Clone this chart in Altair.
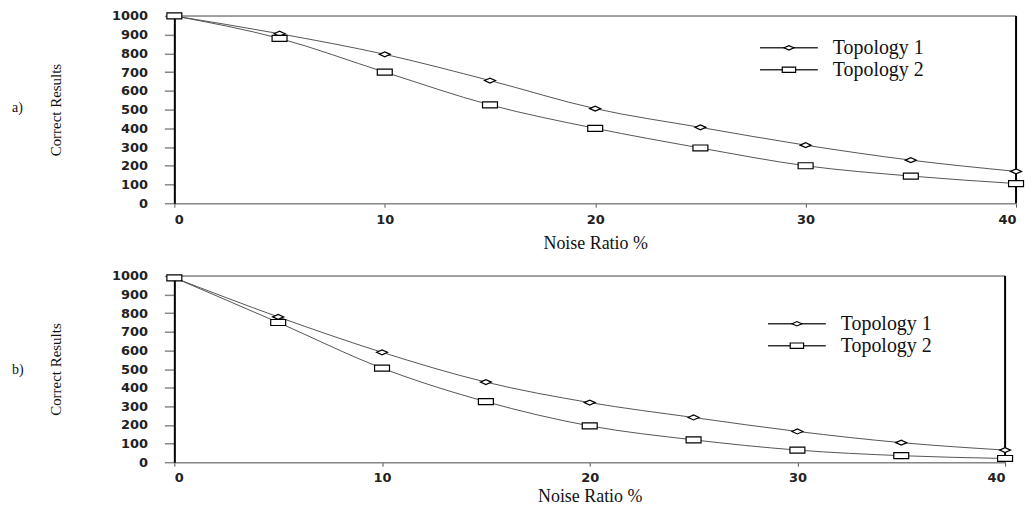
import altair as alt
import pandas as pd

noise = [0, 5, 10, 15, 20, 25, 30, 35, 40]
series_names = ["Topology 1", "Topology 2"]
a_topology1 = [1000, 905, 795, 655, 505, 405, 310, 230, 170]
a_topology2 = [1000, 880, 700, 525, 400, 295, 200, 145, 105]
b_topology1 = [990, 780, 590, 430, 320, 240, 165, 105, 65]
b_topology2 = [990, 750, 505, 325, 195, 120, 65, 35, 20]
y_ticks = [0, 100, 200, 300, 400, 500, 600, 700, 800, 900, 1000]
x_ticks = [0, 10, 20, 30, 40]
panel_labels = ["a)", "b)"]
x_title = "Noise Ratio %"
y_title = "Correct Results"

DIAMOND = "M-1,0L0,-0.45L1,0L0,0.45Z"
RECT = "M-1,-0.4L1,-0.4L1,0.4L-1,0.4Z"
shapes = [DIAMOND, RECT]
sizes = [121, 225]

TICK_FONT = "DejaVu Sans"
SERIF = "Liberation Serif"


def panel(series_vals, label, w, h, leg_x, leg_y, label_y, xlab_pad, xtitle_pad):
    x_enc = alt.X(
        "noise:Q",
        scale=alt.Scale(domain=[0, 40], nice=False, zero=False),
        axis=alt.Axis(
            values=x_ticks, title=x_title, grid=False, format="d",
            domainColor="#888", domainWidth=1.5,
            tickColor="#555", tickSize=4, tickWidth=1,
            labelFont=TICK_FONT, labelFontWeight="bold", labelFontSize=13,
            labelColor="#222", labelPadding=xlab_pad, labelOverlap=False,
            titleFont=SERIF, titleFontSize=18, titleFontWeight="normal",
            titleColor="#111", titlePadding=xtitle_pad,
        ),
    )
    y_enc = alt.Y(
        "val:Q",
        scale=alt.Scale(domain=[0, 1000], nice=False),
        axis=alt.Axis(
            values=y_ticks, title=y_title, grid=False, format="d",
            domainColor="black", domainWidth=2,
            tickColor="#888", tickSize=10, tickWidth=1.5,
            labelFont=TICK_FONT, labelFontWeight="bold", labelFontSize=13,
            labelColor="#222", labelPadding=17, labelOverlap=False,
            titleFont=SERIF, titleFontSize=15, titleFontWeight="normal",
            titleColor="#111", titlePadding=48,
        ),
    )
    layers = []
    for i, (name, vals) in enumerate(zip(series_names, series_vals)):
        df = pd.DataFrame({"noise": noise, "val": vals, "series": name})
        base = alt.Chart(df)
        layers.append(
            base.mark_line(interpolate="monotone", color="#555", strokeWidth=1)
            .encode(x=x_enc, y=y_enc)
        )
    # frame
    layers.append(
        alt.Chart(pd.DataFrame({"val": [1000]}))
        .mark_rule(color="#888", strokeWidth=1.5)
        .encode(y=y_enc)
    )
    layers.append(
        alt.Chart(pd.DataFrame({"noise": [40]}))
        .mark_rule(color="black", strokeWidth=2)
        .encode(x=x_enc)
    )
    for i, (name, vals) in enumerate(zip(series_names, series_vals)):
        df = pd.DataFrame({"noise": noise, "val": vals, "series": name})
        base = alt.Chart(df)
        layers.append(
            base.mark_point(shape=shapes[i], size=sizes[i], filled=True,
                            fill="white", stroke="black", strokeWidth=1.2,
                            opacity=1)
            .encode(x=x_enc, y=y_enc)
        )
        # legend entry
        ldf = pd.DataFrame({"series": [name]})
        ly = leg_y + i * 22
        layers.append(
            alt.Chart(ldf).mark_rule(color="#333", strokeWidth=1.5)
            .encode(x=alt.value(leg_x), x2=alt.value(leg_x + 58), y=alt.value(ly))
        )
        layers.append(
            alt.Chart(ldf).mark_point(shape=shapes[i], size=sizes[i] * 0.8, filled=True,
                                      fill="white", stroke="black", strokeWidth=1.2,
                                      opacity=1)
            .encode(x=alt.value(leg_x + 29), y=alt.value(ly))
        )
        layers.append(
            alt.Chart(ldf).mark_text(align="left", baseline="middle", font=SERIF,
                                     fontSize=20, color="#111")
            .encode(x=alt.value(leg_x + 73), y=alt.value(ly), text="series:N")
        )
    layers.append(
        alt.Chart(pd.DataFrame({"lab": [label]}))
        .mark_text(align="left", baseline="middle", font=SERIF, fontSize=14, color="#111")
        .encode(x=alt.value(-163), y=alt.value(label_y), text="lab:N")
    )
    return alt.layer(*layers).properties(width=w, height=h)


top = panel([a_topology1, a_topology2], panel_labels[0], 845, 188, 588, 32, 92, 6, 8)
bottom = panel([b_topology1, b_topology2], panel_labels[1], 834, 187, 596, 48, 94, 5, 3)

chart = (
    alt.vconcat(top, bottom, spacing=16)
    .properties(padding={"left": 3, "top": 0, "right": 0, "bottom": 0})
    .configure_view(stroke=None)
    .configure_axis(labelOverlap=False)
    .configure(background="white")
)

chart.save("out.html", embed_options={"renderer": "svg", "actions": False})
